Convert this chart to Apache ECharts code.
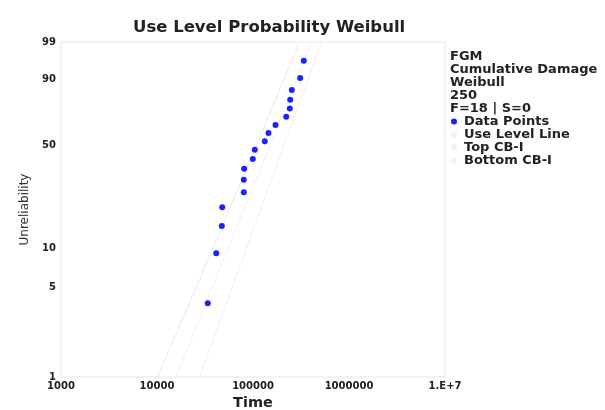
<!DOCTYPE html>
<html>
<head>
<meta charset="utf-8">
<script src="https://cdn.jsdelivr.net/npm/echarts@6/dist/echarts.min.js"></script>
<style>html,body{margin:0;padding:0;background:#fff;}#c{width:605px;height:410px;}</style>
</head>
<body>
<div id="c"></div>
<script>
// ---- data ----
const timeTicks = [1000, 10000, 100000, 1000000, 10000000];
const timeTickLabels = ['1000', '10000', '100000', '1000000', '1.E+7'];
const unrelTicks = [1, 5, 10, 50, 90, 99];
const dataTime = [33800, 41400, 47300, 47800, 80200, 80200, 80900, 99500, 104400,
  132700, 145000, 171600, 221900, 241700, 244200, 253700, 310300, 338000];
const dataUnrel = [3.8, 9.2, 14.7, 20.1, 25.5, 31.0, 36.4, 41.8, 47.3,
  52.7, 58.2, 63.6, 69.0, 74.5, 79.9, 85.3, 90.8, 96.2];
const useLevelTime = [15700, 412000];
const useLevelUnrel = [1, 99];
const topCBTime = [10100, 41700, 305000];
const topCBUnrel = [1, 11.6, 99];
const bottomCBTime = [27700, 92000, 518000];
const bottomCBUnrel = [1, 11.6, 99];
const headerLines = ['FGM', 'Cumulative Damage', 'Weibull', '250', 'F=18 | S=0'];

// Weibull probability scale
const wb = p => Math.log(-Math.log(1 - p / 100));
const inv = v => 100 * (1 - Math.exp(-Math.exp(v)));
const pairs = (t, u) => t.map((x, i) => [x, wb(u[i])]);

const FONT = 'DejaVu Sans';
const chart = echarts.init(document.getElementById('c'));
chart.setOption({
  animation: false,
  backgroundColor: '#fff',
  title: [
    { text: 'Use Level Probability Weibull', left: 128, top: 14,
      textStyle: { fontFamily: FONT, fontWeight: 'bold', fontSize: 16.5, color: '#222' } },
    { text: headerLines.join('\n'), left: 445, top: 45,
      textStyle: { fontFamily: FONT, fontWeight: 'bold', fontSize: 13, lineHeight: 13, color: '#222' } }
  ],
  legend: {
    orient: 'vertical', left: 446, top: 110, itemWidth: 6, itemHeight: 6, itemGap: 0,
    selectedMode: false,
    textStyle: { fontFamily: FONT, fontWeight: 'bold', fontSize: 13, lineHeight: 13, color: '#222', padding: [0, 0, 0, 2] },
    data: [
      { name: 'Data Points', icon: 'circle' },
      { name: 'Use Level Line', icon: 'circle' },
      { name: 'Top CB-I', icon: 'circle' },
      { name: 'Bottom CB-I', icon: 'circle' }
    ]
  },
  grid: { left: 61, right: 160, top: 42, bottom: 33, show: true, borderColor: '#e6e6e6', borderWidth: 1,
    containLabel: false, outerBoundsMode: 'none' },
  xAxis: {
    type: 'log', logBase: 10, min: timeTicks[0], max: timeTicks[timeTicks.length - 1],
    name: 'Time', nameLocation: 'middle', nameGap: 18,
    nameTextStyle: { fontFamily: FONT, fontWeight: 'bold', fontSize: 14.5, color: '#222' },
    axisLine: { show: false }, axisTick: { show: false }, splitLine: { show: false }, minorSplitLine: { show: false },
    axisLabel: {
      margin: 4, fontFamily: FONT, fontWeight: 'bold', fontSize: 10, color: '#222',
      formatter: v => { const i = timeTicks.findIndex(t => Math.abs(t - v) / t < 1e-6); return i >= 0 ? timeTickLabels[i] : ''; }
    }
  },
  yAxis: {
    type: 'value', min: wb(unrelTicks[0]), max: wb(unrelTicks[unrelTicks.length - 1]),
    name: 'Unreliability', nameLocation: 'middle', nameGap: 9,
    nameTextStyle: { fontFamily: FONT, fontSize: 12, color: '#333' },
    axisLine: { show: false }, axisTick: { show: false }, splitLine: { show: false },
    axisLabel: {
      margin: 5, fontFamily: FONT, fontWeight: 'bold', fontSize: 10, color: '#222',
      customValues: unrelTicks.map(wb),
      formatter: v => String(Math.round(inv(v)))
    }
  },
  series: [
    { name: 'Data Points', type: 'scatter', data: pairs(dataTime, dataUnrel), symbol: 'circle', symbolSize: 6,
      itemStyle: { color: '#1a22ff', opacity: 1 }, z: 5 },
    { name: 'Use Level Line', type: 'line', data: pairs(useLevelTime, useLevelUnrel), showSymbol: false,
      lineStyle: { color: '#f0f0f6', width: 1 }, itemStyle: { color: '#f2f2f6' } },
    { name: 'Top CB-I', type: 'line', data: pairs(topCBTime, topCBUnrel), showSymbol: false, smooth: true,
      lineStyle: { color: '#e8e8f8', width: 1 }, itemStyle: { color: '#f0f0fa' } },
    { name: 'Bottom CB-I', type: 'line', data: pairs(bottomCBTime, bottomCBUnrel), showSymbol: false, smooth: true,
      lineStyle: { color: '#f8e8ec', width: 1 }, itemStyle: { color: '#faf0f2' } }
  ]
});
</script>
</body>
</html>
